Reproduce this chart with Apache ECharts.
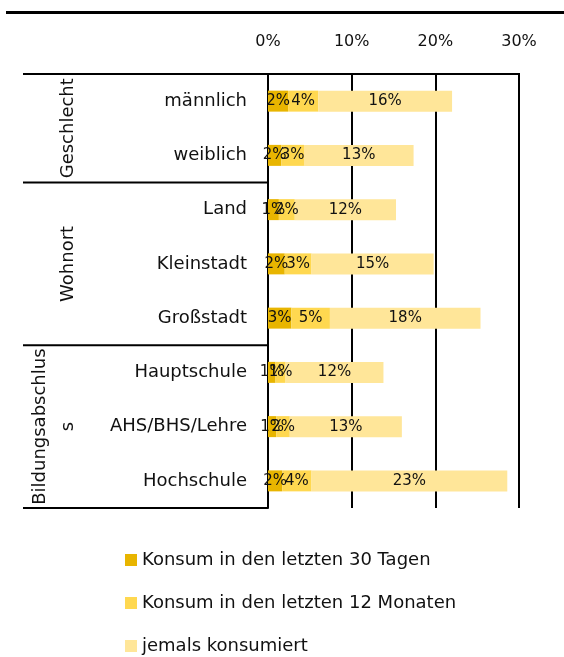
<!DOCTYPE html>
<html>
<head>
<meta charset="utf-8">
<script src="https://cdn.jsdelivr.net/npm/echarts@6/dist/echarts.min.js"></script>
<style>
  html, body { margin: 0; padding: 0; background: #fff; }
  #chart { width: 564px; height: 657px; }
</style>
</head>
<body>
<div id="chart"></div>
<script>
// categories and groups
const categories = ['männlich', 'weiblich', 'Land', 'Kleinstadt', 'Großstadt', 'Hauptschule', 'AHS/BHS/Lehre', 'Hochschule'];
const groups = [
    { name: 'Geschlecht', from: 0, to: 1 },
    { name: 'Wohnort', from: 2, to: 4 },
    { name: 'Bildungsabschlus\ns', from: 5, to: 7 }
];

// series values in % (segments of the stacked bar)
const last30Days = [2.4, 1.6, 1.3, 2.0, 2.8, 0.9, 1.0, 1.7];
const last12Months = [3.6, 2.7, 1.9, 3.2, 4.6, 1.2, 1.6, 3.5];
const everUsed = [16.0, 13.1, 12.1, 14.6, 18.0, 11.7, 13.4, 23.4];

const seriesNames = ['Konsum in den letzten 30 Tagen', 'Konsum in den letzten 12 Monaten', 'jemals konsumiert'];
const seriesColors = ['#E8B500', '#FFD850', '#FFE699'];

const FONT = 'DejaVu Sans';
const TEXT = '#111';

function makeSeries(name, data, color) {
    return {
        name: name,
        type: 'bar',
        stack: 'total',
        data: data,
        barWidth: 21,
        itemStyle: { color: color },
        label: {
            show: true,
            position: 'inside',
            color: TEXT,
            fontFamily: FONT,
            fontSize: 15,
            formatter: p => Math.round(p.value) + '%'
        },
        emphasis: { disabled: true }
    };
}

const chart = echarts.init(document.getElementById('chart'));

chart.setOption({
    animation: false,
    textStyle: { fontFamily: FONT, color: TEXT },
    grid: { left: 268, right: 45, top: 74, bottom: 149 },
    xAxis: {
        type: 'value',
        position: 'top',
        min: 0,
        max: 30,
        interval: 10,
        axisLine: { show: true, lineStyle: { color: '#000', width: 2 } },
        axisTick: { show: false },
        axisLabel: { formatter: '{value}%', fontSize: 16, color: TEXT, margin: 24, fontFamily: FONT },
        splitLine: { show: true, lineStyle: { color: '#000', width: 2 } }
    },
    yAxis: {
        type: 'category',
        inverse: true,
        data: categories,
        axisLine: { show: true, lineStyle: { color: '#000', width: 2 } },
        axisTick: { show: false },
        axisLabel: { fontSize: 18, color: TEXT, margin: 21, fontFamily: FONT }
    },
    legend: {
        orient: 'vertical',
        left: 125,
        top: 551,
        height: 106,
        padding: 0,
        itemWidth: 12,
        itemHeight: 12,
        itemGap: 25,
        icon: 'rect',
        textStyle: { fontSize: 18, color: TEXT, fontFamily: FONT },
        data: seriesNames
    },
    series: [
        makeSeries(seriesNames[0], last30Days, seriesColors[0]),
        makeSeries(seriesNames[1], last12Months, seriesColors[1]),
        makeSeries(seriesNames[2], everUsed, seriesColors[2])
    ]
});

// group frame and labels, positioned from the category axis
function drawGroups() {
    const gridTop = 74;
    const gridBottom = 657 - 149;
    const axisX = chart.convertToPixel({ xAxisIndex: 0 }, 0);
    const rightX = chart.convertToPixel({ xAxisIndex: 0 }, 30);
    const yOf = i => chart.convertToPixel({ yAxisIndex: 0 }, categories[i]);
    const step = yOf(1) - yOf(0);
    const leftX = 23;
    const lineStyle = { stroke: '#000', lineWidth: 2 };

    const elements = [];
    // thick rule at the top
    elements.push({ type: 'line', shape: { x1: 6, y1: 12.5, x2: 564, y2: 12.5 }, style: { stroke: '#000', lineWidth: 3 } });
    // top border
    elements.push({ type: 'line', shape: { x1: leftX, y1: gridTop, x2: rightX + 1, y2: gridTop }, style: lineStyle });

    for (const g of groups) {
        const yStart = g.from === 0 ? gridTop : yOf(g.from) - step / 2;
        const yEnd = g.to === categories.length - 1 ? gridBottom : yOf(g.to) + step / 2;
        elements.push({ type: 'line', shape: { x1: leftX, y1: yEnd, x2: axisX, y2: yEnd }, style: lineStyle });
        const multi = g.name.indexOf('\n') >= 0;
        elements.push({
            type: 'text',
            x: multi ? 54 : 68,
            y: (yStart + yEnd) / 2,
            rotation: Math.PI / 2,
            style: {
                text: g.name,
                fontSize: 18,
                fontFamily: FONT,
                fill: TEXT,
                align: 'center',
                verticalAlign: 'middle',
                lineHeight: 28
            }
        });
    }
    chart.setOption({ graphic: { elements: elements } });
}

drawGroups();
</script>
</body>
</html>
